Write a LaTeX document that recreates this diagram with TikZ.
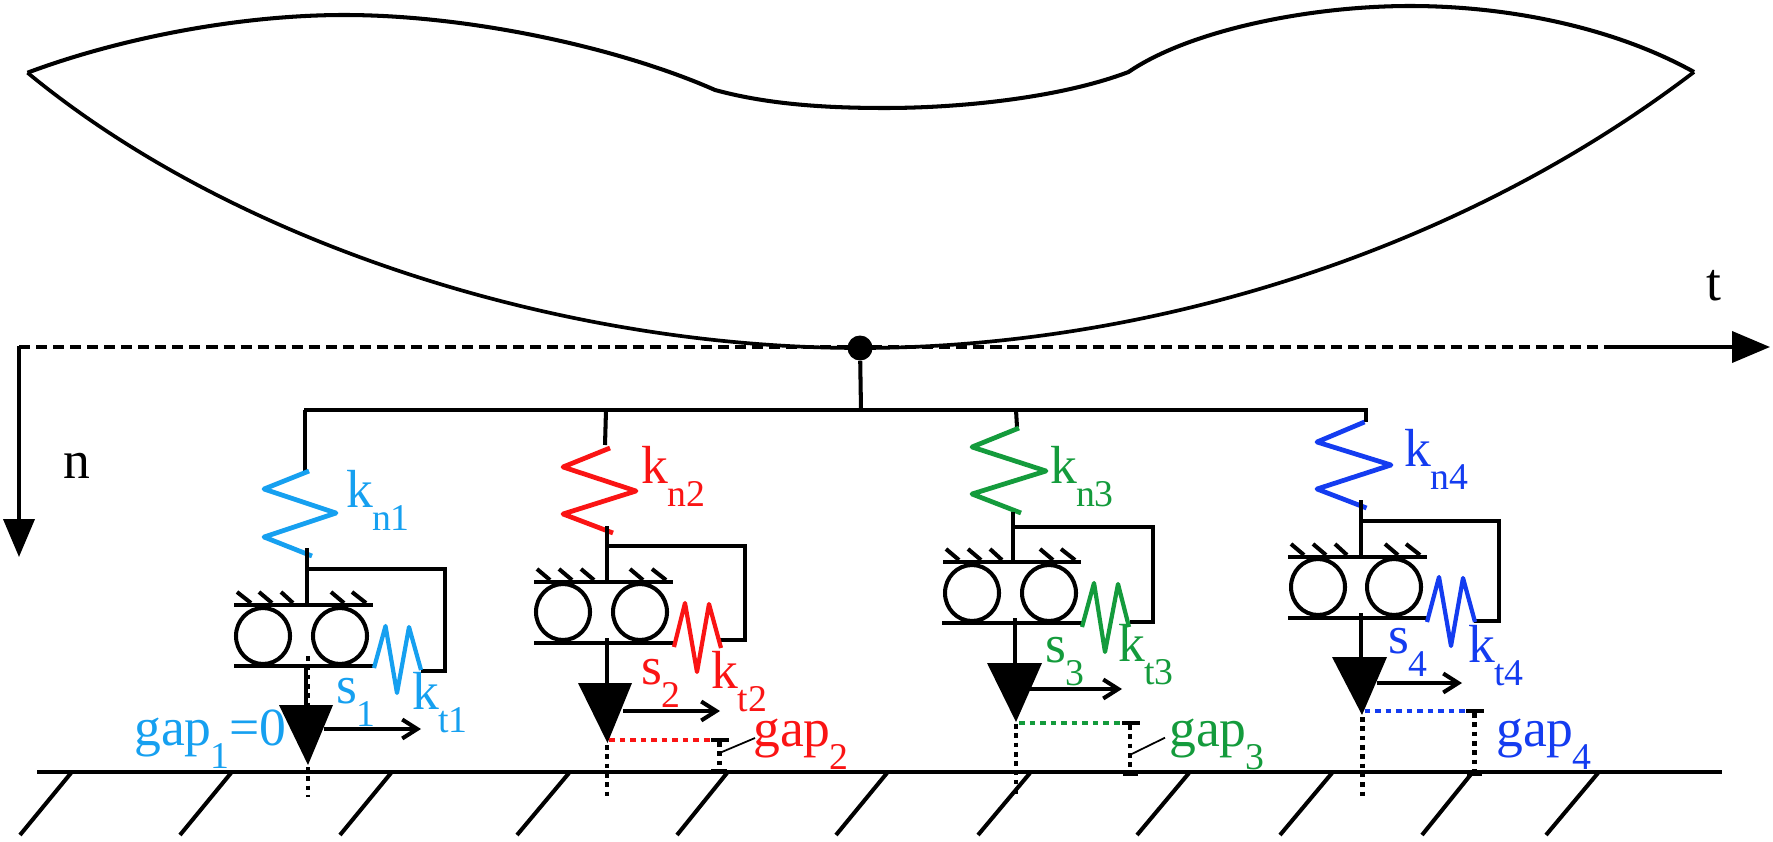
\documentclass[tikz,border=0pt]{standalone}
\usepackage{fontspec}
\setmainfont{Liberation Serif}
\usetikzlibrary{arrows.meta}
\definecolor{sky}{RGB}{22,160,240}
\definecolor{rouge}{RGB}{250,20,20}
\definecolor{vert}{RGB}{20,155,60}
\definecolor{bleu}{RGB}{20,60,240}
\newcommand{\sublab}[2]{#1\kern-0.6pt\raisebox{-0.46cm}{\fontsize{21.5}{23}\selectfont #2}}
\tikzset{
  bar/.style={line width=2.3pt},
  thinbar/.style={line width=1pt},
  spring/.style={line width=2.7pt,line join=round},
  dots/.style={line width=2.5pt,dash pattern=on 2.6pt off 2.7pt},
  gapline/.style={line width=2.4pt,dash pattern=on 3.2pt off 2.8pt},
  axis/.style={line width=2.2pt,-{Triangle[length=0.76cm,width=0.62cm]}},
  slip/.style={line width=2.3pt,-{Straight Barb[length=0.3cm,width=0.38cm]}},
  lab/.style={anchor=base west,inner sep=0pt,font=\fontsize{30.5}{32}\selectfont},
}
\begin{document}
\begin{tikzpicture}[x=0.02cm,y=-0.02cm]
\useasboundingbox (0,0) rectangle (1773,841);
% body
\draw[bar,line join=round] (27.5,72.7) .. controls (120,38) and (240,15) .. (344,15) .. controls (470,15) and (620,48) .. (715,90) .. controls (770,105) and (830,108) .. (885,108) .. controls (960,108) and (1060,98) .. (1128.5,72) .. controls (1190,30) and (1310,6) .. (1410,6) .. controls (1510,6) and (1615,28) .. (1694,72);
\draw[line width=2.1pt,line join=round] (27.5,72.7) .. controls (240,248) and (570,348) .. (860,348) .. controls (1130,348) and (1445,262) .. (1694,72);
% axes
\draw[line width=2.4pt,dash pattern=on 6.3pt off 3.4pt] (19,347) -- (1605,347);
\draw[axis] (1605,347) -- (1770,347);
\draw[axis] (19,346) -- (19,557);
\node[lab] (taxis) at (1706,300) {t};
\node[lab] (naxis) at (63,478) {n};
\node[circle,fill=black,inner sep=0pt,minimum size=0.5cm] (contact) at (860,348) {};
\draw[bar] (contact) -- (861,410);
\draw[bar] (304,410) -- (1368,410);
% ground
\draw[bar] (37,772) -- (1722,772);
\draw[bar] (71,773) -- (20,835) (231,773) -- (180,835) (391,773) -- (340,835) (569,773) -- (517,835) (727,773) -- (677,835) (887,773) -- (836,835) (1030,773) -- (978,835) (1189,773) -- (1137,835) (1332,773) -- (1280,835) (1472,773) -- (1422,835) (1598,773) -- (1546,835);
%
% first contact
\draw[bar] (305,410) -- (305,471);
\draw[spring,sky] (309,471) -- (264,489) -- (336,513) -- (264,537) -- (312,556);
\draw[bar] (307,548) -- (307,603);
\draw[bar] (307,569) -- (445,569) -- (445,671) -- (421,671);
\draw[bar] (234,605) -- (373,605);
\draw[bar] (237,592) -- (251,603) (259,592) -- (272,603) (281,592) -- (293,603) (331,592) -- (344,603) (352,592) -- (366,603);
\draw[bar] (263,636) ellipse [x radius=27,y radius=28] (340,636) ellipse [x radius=27,y radius=28];
\draw[bar] (234,666) -- (375,666);
\draw[spring,sky,line width=2.4pt] (374,668) -- (385.5,626) -- (397,693) -- (409,627) -- (421,670);
\draw[bar] (306,666) -- (306,705);
\draw[dots] (308,656) -- (308,705);
\fill (279,705) -- (333,705) -- (308,765) -- cycle;
\draw[dots] (308,767) -- (308,797);
\draw[slip] (324,729) -- (421,729);
\node[lab,sky] (kn1) at (346,507) {\sublab{k}{n1}};
\node[lab,sky] (kt1) at (412,709) {\sublab{k}{t1}};
\node[lab,sky] (s1) at (336,703) {\sublab{s}{1}};
\node[lab,sky] (gap1) at (134,745) {\sublab{gap}{1}=0};
%
% second contact
\draw[bar] (606,410) -- (605,445);
\draw[spring,rouge] (610,448) -- (563,467) -- (636,491) -- (563,514) -- (613,533);
\draw[bar] (607,526) -- (607,582);
\draw[bar] (607,546) -- (745,546) -- (745,640) -- (719,640);
\draw[bar] (534,582) -- (673,582);
\draw[bar] (537,569) -- (550,580) (559,569) -- (572,580) (581,569) -- (594,580) (630,569) -- (643,580) (652,569) -- (666,580);
\draw[bar] (563,612) ellipse [x radius=27,y radius=28] (640,612) ellipse [x radius=27,y radius=28];
\draw[bar] (534,643) -- (674,643);
\draw[spring,rouge,line width=2.4pt] (674,647) -- (685,603) -- (697,672) -- (709,604) -- (721,648);
\draw[bar] (607,638) -- (607,683);
\fill (578,683) -- (632,683) -- (607.5,743) -- cycle;
\draw[dots] (607,745) -- (607,798);
\draw[gapline,rouge] (609,740) -- (710,740);
\draw[bar] (711,740) -- (729,740) (711,771) -- (727,771);
\draw[dots] (719.5,742) -- (719.5,770);
\draw[thinbar] (719.5,753) -- (755,738);
\draw[slip] (623,711) -- (720,711);
\node[lab,rouge] (kn2) at (641.5,483) {\sublab{k}{n2}};
\node[lab,rouge] (kt2) at (711.5,688) {\sublab{k}{t2}};
\node[lab,rouge] (s2) at (641.5,684) {\sublab{s}{2}};
\node[lab,rouge] (gap2) at (753,746) {\sublab{gap}{2}};
%
% third contact
\draw[bar] (1016,410) -- (1017,427);
\draw[spring,vert] (1019,428) -- (972,447) -- (1046,471) -- (972,494) -- (1021,513);
\draw[bar] (1013,512) -- (1013,562);
\draw[bar] (1013,527) -- (1153,527) -- (1153,622) -- (1130,622);
\draw[bar] (943,562) -- (1081,562);
\draw[bar] (946,549) -- (959,560) (968,549) -- (981,560) (990,549) -- (1002,560) (1040,549) -- (1053,560) (1061,549) -- (1075,560);
\draw[bar] (972,593) ellipse [x radius=27,y radius=28] (1049,593) ellipse [x radius=27,y radius=28];
\draw[bar] (942,623) -- (1082,623);
\draw[spring,vert,line width=2.4pt] (1082,627) -- (1094,583) -- (1105,652) -- (1118,584) -- (1129,627);
\draw[bar] (1015,618) -- (1015,663);
\fill (987,663) -- (1042,663) -- (1016,722) -- cycle;
\draw[dots] (1016,724) -- (1016,798);
\draw[gapline,vert] (1019,723) -- (1121,723);
\draw[bar] (1122,723) -- (1140,723) (1123,774) -- (1138,774);
\draw[dots] (1130,725) -- (1130,772);
\draw[thinbar] (1131.7,754) -- (1165,737.7);
\draw[slip] (1030,689) -- (1122,689);
\node[lab,vert] (kn3) at (1050,483) {\sublab{k}{n3}};
\node[lab,vert] (kt3) at (1118,661) {\sublab{k}{t3}};
\node[lab,vert] (s3) at (1045,662) {\sublab{s}{3}};
\node[lab,vert] (gap3) at (1169,746) {\sublab{gap}{3}};
%
% fourth contact
\draw[bar] (1366,410) -- (1366,422);
\draw[spring,bleu] (1364.5,422) -- (1317,442) -- (1391,465) -- (1317,489) -- (1366.5,508);
\draw[bar] (1360.5,500) -- (1360.5,555);
\draw[bar] (1360.5,521) -- (1499,521) -- (1499,621) -- (1474,621);
\draw[bar] (1288,557) -- (1427,557);
\draw[bar] (1291,544) -- (1304,555) (1313,544) -- (1326,555) (1335,544) -- (1347,555) (1385,544) -- (1398,555) (1406,544) -- (1420,555);
\draw[bar] (1318,587) ellipse [x radius=27,y radius=28] (1394,587) ellipse [x radius=27,y radius=28];
\draw[bar] (1288,618) -- (1428,618);
\draw[spring,bleu,line width=2.4pt] (1427,622) -- (1439,577) -- (1451,646) -- (1463,578) -- (1475,622);
\draw[bar] (1360.5,613) -- (1360.5,658);
\fill (1332,657) -- (1387,657) -- (1362,715) -- cycle;
\draw[dots] (1362.5,717) -- (1362.5,798);
\draw[gapline,bleu] (1364.5,711) -- (1466,711);
\draw[bar] (1466,711) -- (1484,711) (1467,774) -- (1482,774);
\draw[dots] (1474.6,713) -- (1474.6,770);
\draw[slip] (1376.5,683) -- (1462,683);
\node[lab,bleu] (kn4) at (1404,466) {\sublab{k}{n4}};
\node[lab,bleu] (kt4) at (1468,662) {\sublab{k}{t4}};
\node[lab,bleu] (s4) at (1388,653) {\sublab{s}{4}};
\node[lab,bleu] (gap4) at (1496,746) {\sublab{gap}{4}};
\end{tikzpicture}
\end{document}
